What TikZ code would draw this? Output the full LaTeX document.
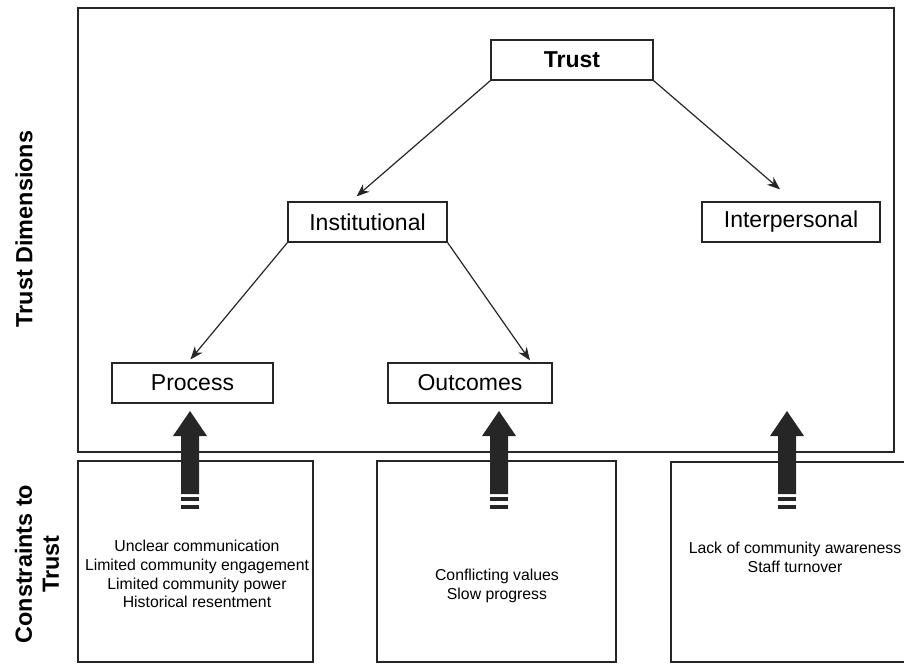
\documentclass[tikz,border=0pt]{standalone}
\usepackage{fontspec}
\setmainfont{Liberation Sans}
\usetikzlibrary{arrows.meta, positioning, calc}

\begin{document}
\begin{tikzpicture}[
    x=0.5pt, y=-0.5pt,
    % --- styles ---
    frame/.style={
            draw=black!85,
            line width=0.8pt
        },
    dim/.style={
            draw=black!85,
            line width=0.6pt,
            fill=white,
            minimum height=20pt,
            inner sep=0pt,
            font=\fontsize{11.5}{13.8}\selectfont
        },
    treeArrow/.style={
            -{Stealth[length=6.5pt, width=5pt]},
            line width=0.6pt,
            color=black!85
        },
    constraint/.style={
            align=center,
            font=\fontsize{7.9}{9.4}\selectfont
        },
    sidelabel/.style={
            rotate=90,
            align=center,
            font=\fontsize{11.7}{13.5}\selectfont\bfseries
        }
    ]

    \useasboundingbox (0,0) rectangle (904,664);

    % 1. Frames
    \draw[frame] (78,8) rectangle (894,452);
    \draw[frame] (78,461) rectangle (313,662);
    \draw[frame] (377,461) rectangle (616,662);
    \draw[frame] (671,462) rectangle (910,662);

    % 2. Trust dimensions
    \node[dim, minimum width=81pt, font=\fontsize{11.5}{13.8}\selectfont\bfseries] (trust) at (572,60) {Trust};
    \node[dim, minimum width=79.5pt] (inst) at (367.5,222) {Institutional};
    \node[dim, minimum width=89pt] (inter) at (791,222) {Interpersonal};
    \node[dim, minimum width=80.5pt] (proc) at (192.5,383) {Process};
    \node[dim, minimum width=82pt] (outc) at (470,383) {Outcomes};

    % 3. Connections
    \draw[treeArrow] (trust.south west) -- ([xshift=-5.5pt, yshift=2.5pt]inst.north);
    \draw[treeArrow] (trust.south east) -- ([xshift=-5.5pt, yshift=6pt]inter.north);
    \draw[treeArrow] (inst.south west) -- ([xshift=-1pt, yshift=1.5pt]proc.north);
    \draw[treeArrow] (inst.south east) -- ([xshift=30pt, yshift=1pt]outc.north);

    % 4. Block arrows from the constraints
    \foreach \cx in {190,499,787} {
        \fill[black!85] (\cx,411) -- (\cx+17,436) -- (\cx+9,436) -- (\cx+9,494)
            -- (\cx-9,494) -- (\cx-9,436) -- (\cx-17,436) -- cycle;
        \fill[black!85] (\cx-9,497) rectangle (\cx+9,501);
        \fill[black!85] (\cx-9,505) rectangle (\cx+9,509);
    }

    % 5. Constraints
    \node[constraint] (c1) at (197,574) {Unclear communication\\Limited community engagement\\Limited community power\\Historical resentment};
    \node[constraint] (c2) at (497,586) {Conflicting values\\Slow progress};
    \node[constraint] (c3) at (795,557) {Lack of community awareness\\Staff turnover};

    % Side labels
    \node[sidelabel] (dimlabel) at (24,229) {Trust Dimensions};
    \node[sidelabel] (conlabel) at (37,564) {Constraints to\\Trust};

\end{tikzpicture}
\end{document}
